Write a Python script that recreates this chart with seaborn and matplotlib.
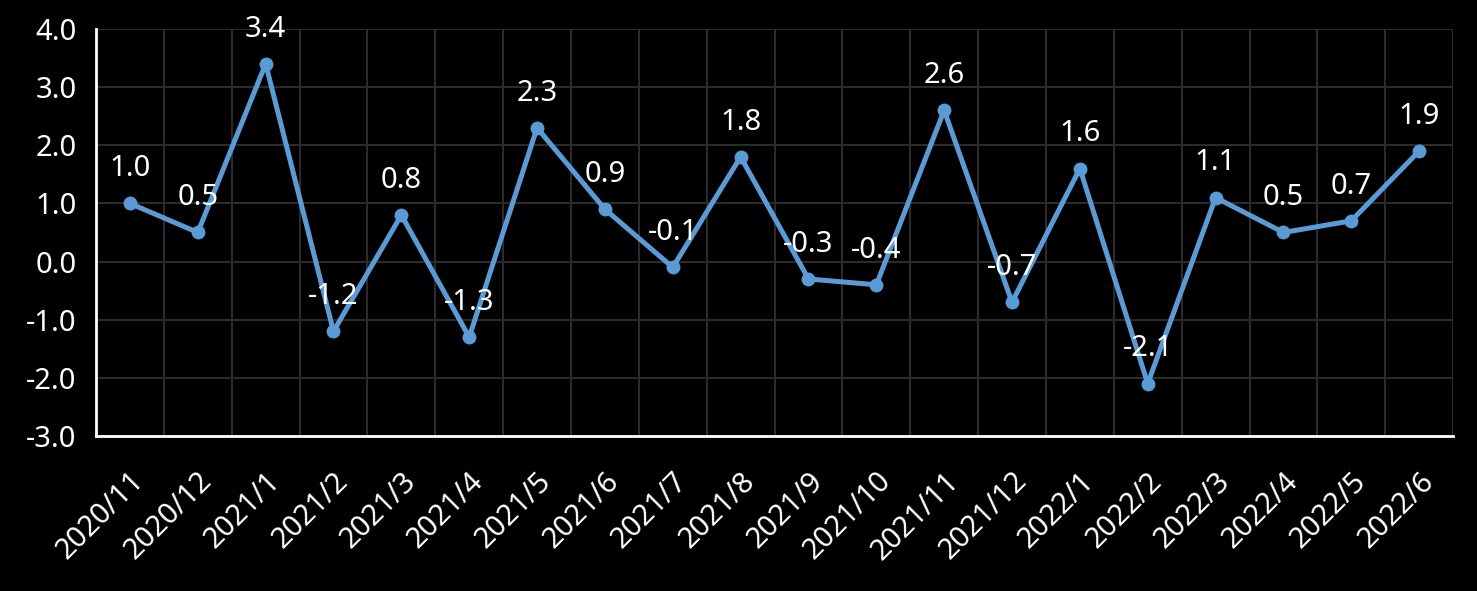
import numpy as np
import pandas as pd
import matplotlib
matplotlib.use("Agg")
import matplotlib.pyplot as plt
import seaborn as sns

# data
months = ["2020/11", "2020/12", "2021/1", "2021/2", "2021/3", "2021/4", "2021/5",
          "2021/6", "2021/7", "2021/8", "2021/9", "2021/10", "2021/11", "2021/12",
          "2022/1", "2022/2", "2022/3", "2022/4", "2022/5", "2022/6"]
values = [1.0, 0.5, 3.4, -1.2, 0.8, -1.3, 2.3, 0.9, -0.1, 1.8, -0.3, -0.4,
          2.6, -0.7, 1.6, -2.1, 1.1, 0.5, 0.7, 1.9]
yticks = [-3.0, -2.0, -1.0, 0.0, 1.0, 2.0, 3.0, 4.0]

df = pd.DataFrame({"month": months, "value": values})

sns.set_style("dark")
plt.rcParams["font.family"] = ["Noto Sans", "DejaVu Sans"]

line_color = "#5B9BD5"
grid_color = "#2b2b2b"
fs = 21

fig = plt.figure(figsize=(14.77, 5.91), dpi=100, facecolor="black")
ax = fig.add_axes([0.065, 0.2623, 0.9188, 0.6887])
ax.set_facecolor("black")

sns.lineplot(data=df, x="month", y="value", ax=ax, color=line_color,
             linewidth=3.6, marker="o", markersize=10, markeredgewidth=0,
             sort=False)

# data labels above each point
for i, v in enumerate(values):
    ax.annotate(f"{v:.1f}", (i, v), xytext=(0, 25), textcoords="offset points",
                ha="center", va="center", color="white", fontsize=fs)

ax.set_xlim(-0.5, len(months) - 0.5)
ax.set_ylim(-3, 4)
ax.set_yticks(yticks)
ax.set_yticklabels([f"{t:.1f}" for t in yticks], color="white", fontsize=fs)
ax.set_xticks(range(len(months)))
ax.set_xticklabels(months, rotation=45, ha="right", rotation_mode="anchor",
                   color="white", fontsize=fs)
ax.set_xticks(np.arange(-0.5, len(months)), minor=True)

ax.tick_params(axis="x", which="major", length=0, pad=22)
ax.tick_params(axis="x", which="minor", length=9, width=2, color="white")
ax.tick_params(axis="y", length=0, pad=14)

ax.grid(False)
ax.yaxis.grid(True, color=grid_color, linewidth=1.5)
ax.xaxis.grid(True, which="minor", color=grid_color, linewidth=1.5)
ax.set_axisbelow(True)

for s in ["top", "right"]:
    ax.spines[s].set_visible(False)
for s in ["left", "bottom"]:
    ax.spines[s].set_visible(True)
    ax.spines[s].set_color("white")
    ax.spines[s].set_linewidth(2)

ax.set_xlabel("")
ax.set_ylabel("")

plt.savefig("out.png", dpi=100, facecolor="black")
